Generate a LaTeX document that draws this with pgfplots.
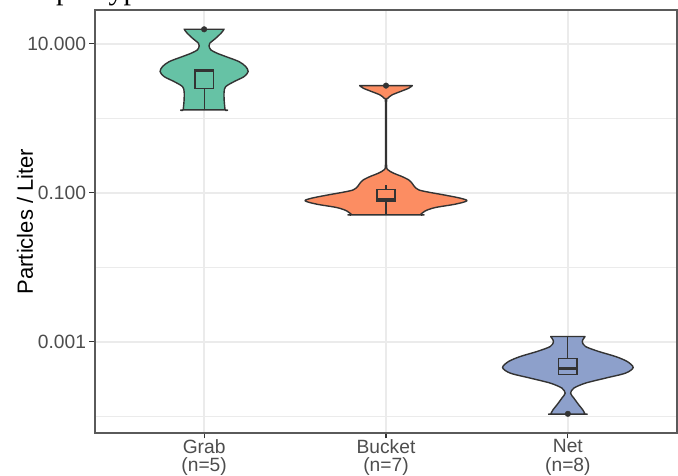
\documentclass[border=0pt]{standalone}
\usepackage{fontspec}
\setmainfont{Liberation Sans}
\newfontfamily\titlefont{Liberation Serif}
\usepackage{pgfplots}
\usepackage{pgfplotstable}
\pgfplotsset{compat=1.18}

\definecolor{grabfill}{HTML}{66C2A5}
\definecolor{bucketfill}{HTML}{FC8D62}
\definecolor{netfill}{HTML}{8DA0CB}
\definecolor{gray20}{HTML}{333333}
\definecolor{gray30}{HTML}{4D4D4D}
\definecolor{gray92}{HTML}{EBEBEB}
\definecolor{framecol}{HTML}{5A5A5A}

\newcommand\ticksize{\fontsize{19.2bp}{18.8bp}\selectfont}
\newcommand\labsize{\fontsize{22bp}{26bp}\selectfont}

% Violin outlines, traced clockwise from the top right corner:
% w = signed half width in category units, l = log10(particles per liter).
% Corner points are repeated so the flat ends stay sharp when smoothed.
\pgfplotstableread{
w       l
0.110   1.197
0.093   1.143
0.064   1.076
0.031   1.009
0.027   0.973
0.037   0.919
0.071   0.875
0.119   0.830
0.192   0.762
0.229   0.695
0.242   0.628
0.220   0.561
0.165   0.494
0.119   0.427
0.110   0.360
0.110   0.248
0.115   0.114
0.115   0.114
-0.115  0.114
-0.115  0.114
-0.110  0.248
-0.110  0.360
-0.119  0.427
-0.165  0.494
-0.220  0.561
-0.242  0.628
-0.229  0.695
-0.192  0.762
-0.119  0.830
-0.071  0.875
-0.037  0.919
-0.027  0.973
-0.031  1.009
-0.064  1.076
-0.093  1.143
-0.110  1.197
}\grabviolin

\pgfplotstableread{
w       l
0.145   0.440
0.125   0.405
0.079   0.360
0.033   0.315
0.011   0.271
0.003   0.226
0.002  -0.221
0.003  -0.624
0.011  -0.691
0.042  -0.736
0.088  -0.781
0.125  -0.826
0.143  -0.870
0.156  -0.915
0.180  -0.960
0.235  -0.991
0.317  -1.027
0.408  -1.071
0.445  -1.107
0.381  -1.152
0.271  -1.197
0.216  -1.242
0.188  -1.295
0.188  -1.295
-0.188 -1.295
-0.188 -1.295
-0.216 -1.242
-0.271 -1.197
-0.381 -1.152
-0.445 -1.107
-0.408 -1.071
-0.317 -1.027
-0.235 -0.991
-0.180 -0.960
-0.156 -0.915
-0.143 -0.870
-0.125 -0.826
-0.088 -0.781
-0.042 -0.736
-0.011 -0.691
-0.003 -0.624
-0.002 -0.221
-0.003  0.226
-0.011  0.271
-0.033  0.315
-0.079  0.360
-0.125  0.405
-0.145  0.440
}\bucketviolin

\pgfplotstableread{
w        l
0.0945  -2.929
0.079   -2.996
0.097   -3.063
0.170   -3.130
0.262   -3.197
0.326   -3.264
0.359   -3.345
0.317   -3.420
0.207   -3.487
0.097   -3.554
0.033   -3.621
0.015   -3.689
0.033   -3.756
0.060   -3.846
0.082   -3.913
0.0945  -3.970
0.0945  -3.970
-0.0945 -3.970
-0.0945 -3.970
-0.082  -3.913
-0.060  -3.846
-0.033  -3.756
-0.015  -3.689
-0.033  -3.621
-0.097  -3.554
-0.207  -3.487
-0.317  -3.420
-0.359  -3.345
-0.326  -3.264
-0.262  -3.197
-0.170  -3.130
-0.097  -3.063
-0.079  -2.996
-0.0945 -2.929
}\netviolin

\begin{document}
\begin{tikzpicture}
\begin{axis}[
  scale only axis,
  width=582bp, height=423bp,
  xmin=0.4, xmax=3.6,
  ymode=log, ymin=5.97e-5, ymax=28.5,
  axis line style={draw=framecol, line width=1.1bp},
  xtick={1,2,3},
  xticklabels={{Grab\\(n=5)},{Bucket\\(n=7)},{Net\\(n=8)}},
  ytick={10,0.1,0.001},
  yticklabels={10.000,0.100,0.001},
  minor ytick={1,0.01,0.0001},
  grid=both,
  major grid style={draw=gray92, line width=1.4bp},
  minor grid style={draw=gray92, line width=0.7bp},
  tick align=outside,
  xtick pos=left, ytick pos=left,
  major tick length=5.5bp,
  minor tick length=0pt,
  tick style={draw=gray20, line width=1.1bp},
  xticklabel style={align=center, font=\ticksize, text=gray30, inner ysep=0.5bp},
  yticklabel style={font=\ticksize, text=gray30},
  ylabel={Particles / Liter},
  every axis y label/.style={at={(axis description cs:-0.1203,0.5)}, rotate=90, anchor=center, font=\labsize},
  violin/.style={draw=gray20, line width=1.4bp, line join=round, smooth, tension=0.5},
  boxline/.style={draw=gray20, line width=1.2bp},
  median/.style={draw=gray20, line width=3bp},
]

% Violins
\addplot[violin, fill=grabfill] table[x expr=1+\thisrow{w}, y expr=10^(\thisrow{l})] {\grabviolin} -- cycle;
\addplot[violin, fill=bucketfill] table[x expr=2+\thisrow{w}, y expr=10^(\thisrow{l})] {\bucketviolin} -- cycle;
\addplot[violin, fill=netfill] table[x expr=3+\thisrow{w}, y expr=10^(\thisrow{l})] {\netviolin} -- cycle;

% Box plots: whiskers, boxes, medians
\addplot[boxline] coordinates {(1,1.28) (1,2.54)};
\addplot[boxline] coordinates {(0.95,2.54) (1.05,2.54) (1.05,4.57) (0.95,4.57)} -- cycle;
\addplot[median] coordinates {(0.95,4.45) (1.05,4.45)};

\addplot[boxline] coordinates {(2,0.0507) (2,0.0764)};
\addplot[boxline] coordinates {(2,0.112) (2,0.128)};
\addplot[boxline] coordinates {(1.95,0.0764) (2.05,0.0764) (2.05,0.112) (1.95,0.112)} -- cycle;
\addplot[median] coordinates {(1.95,0.0805) (2.05,0.0805)};

\addplot[boxline] coordinates {(3,0.000604) (3,0.00118)};
\addplot[boxline] coordinates {(2.95,0.000368) (3.05,0.000368) (3.05,0.000604) (2.95,0.000604)} -- cycle;
\addplot[median] coordinates {(2.95,0.000445) (3.05,0.000445)};

% Outliers
\addplot[only marks, mark=*, mark size=2.8bp, draw=gray20, fill=gray20] coordinates {(1,15.7) (2,2.75) (3,0.000108)};
\end{axis}

\node[anchor=base west, inner sep=0pt, font=\titlefont\fontsize{30bp}{32bp}\selectfont] at (-92.5bp,433.5bp) {Sample type};

\pgfresetboundingbox
\useasboundingbox (-95bp,-43bp) rectangle (583bp,433bp);
\end{tikzpicture}
\end{document}
